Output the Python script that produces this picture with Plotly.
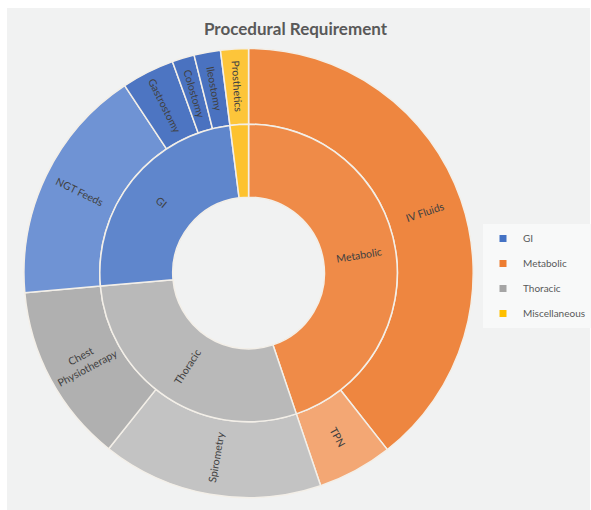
import math
import plotly.graph_objects as go

# ---- data ----
categories = ["GI", "Metabolic", "Thoracic", "Miscellaneous"]
category_colors = ["#5f86cc", "#ef8b48", "#b9b9b9", "#fdc22e"]
legend_colors = ["#4472c4", "#ed7d31", "#a5a5a5", "#ffc000"]

ring_order = ["Metabolic", "Thoracic", "GI", "Miscellaneous"]

items = ["IV Fluids", "TPN", "Spirometry", "Chest<br>Physiotherapy", "NGT Feeds",
         "Gastrostomy", "Colostomy", "Ileostomy", "Prosthetics"]
item_parent = ["Metabolic", "Metabolic", "Thoracic", "Thoracic", "GI",
               "GI", "GI", "GI", "Miscellaneous"]
item_values = [39.4, 5.4, 15.9, 12.9, 17.1, 3.8, 1.6, 1.9, 2.0]
item_colors = ["#ee8640", "#f3a774", "#c3c3c3", "#b0b0b0", "#6f93d4",
               "#4d75c2", "#4a72c0", "#4a72c0", "#fdc53a"]

cat_values = [sum(v for v, p in zip(item_values, item_parent) if p == c) for c in ring_order]
cat_ring_colors = [category_colors[categories.index(c)] for c in ring_order]

W, H = 591, 510
cx, cy = 249, 273
R_out, R_mid, R_in = 225, 149, 76

def dom(r):
    return dict(x=[(cx - r) / W, (cx + r) / W],
                y=[(H - cy - r) / H, (H - cy + r) / H])

line = dict(color="#f3efe8", width=1.5)

fig = go.Figure()
fig.add_trace(go.Pie(
    labels=items, values=item_values,
    sort=False, direction="clockwise", rotation=0,
    hole=R_mid / R_out, domain=dom(R_out),
    marker=dict(colors=item_colors, line=line),
    textinfo="none", showlegend=False, hoverinfo="label+value",
))
fig.add_trace(go.Pie(
    labels=ring_order, values=cat_values,
    sort=False, direction="clockwise", rotation=0,
    hole=R_in / R_mid, domain=dom(R_mid),
    marker=dict(colors=cat_ring_colors, line=line),
    textinfo="none", showlegend=False, hoverinfo="label+value",
))

# radial labels placed at each slice's mid-angle (derived from values)
def radial_labels(labels, values, r_lo, r_hi, min_deg):
    total = sum(values)
    acc = 0.0
    anns = []
    for lab, v in zip(labels, values):
        a0 = acc / total * 360
        acc += v
        a1 = acc / total * 360
        if a1 - a0 < min_deg:
            continue
        th = (a0 + a1) / 2
        r = (r_lo + r_hi) / 2
        sx = cx + r * math.sin(math.radians(th))
        sy = cy - r * math.cos(math.radians(th))
        ang = th - 90 if th < 180 else th - 270
        anns.append(dict(x=sx / W, y=1 - sy / H, xref="paper", yref="paper",
                         text=lab, showarrow=False, textangle=ang,
                         xanchor="center", yanchor="middle",
                         font=dict(family="Lato, sans-serif", size=10.5, color="#404040")))
    return anns

annotations = radial_labels(items, item_values, R_mid, R_out, 0) + \
    radial_labels(ring_order, cat_values, R_in, R_mid, 15)

# legend entries
for c, col in zip(categories, legend_colors):
    fig.add_trace(go.Scatter(
        x=[None], y=[None], mode="markers", name=c, legendgroup=c,
        marker=dict(symbol="square", size=7, color=col),
    ))

fig.update_layout(
    width=W, height=H,
    margin=dict(l=0, r=0, t=0, b=0),
    paper_bgcolor="white", plot_bgcolor="rgba(0,0,0,0)",
    xaxis=dict(visible=False), yaxis=dict(visible=False),
    annotations=annotations,
    title=dict(text="<b>Procedural Requirement</b>", x=0.5, xanchor="center",
               y=1 - 29 / H, yanchor="middle",
               font=dict(family="Lato, sans-serif", size=17, color="#595959")),
    legend=dict(x=484 / W, y=1 - 224 / H, xanchor="left", yanchor="top",
                bgcolor="#f8f9f9", borderwidth=0, tracegroupgap=6,
                font=dict(family="Lato, sans-serif", size=10, color="#595959"),
                itemwidth=30),
    shapes=[dict(type="rect", xref="paper", yref="paper",
                 x0=7 / W, x1=1, y0=0, y1=1 - 8 / H,
                 fillcolor="#f1f2f2", line=dict(width=0), layer="below")],
)

fig.write_html("out.html")
